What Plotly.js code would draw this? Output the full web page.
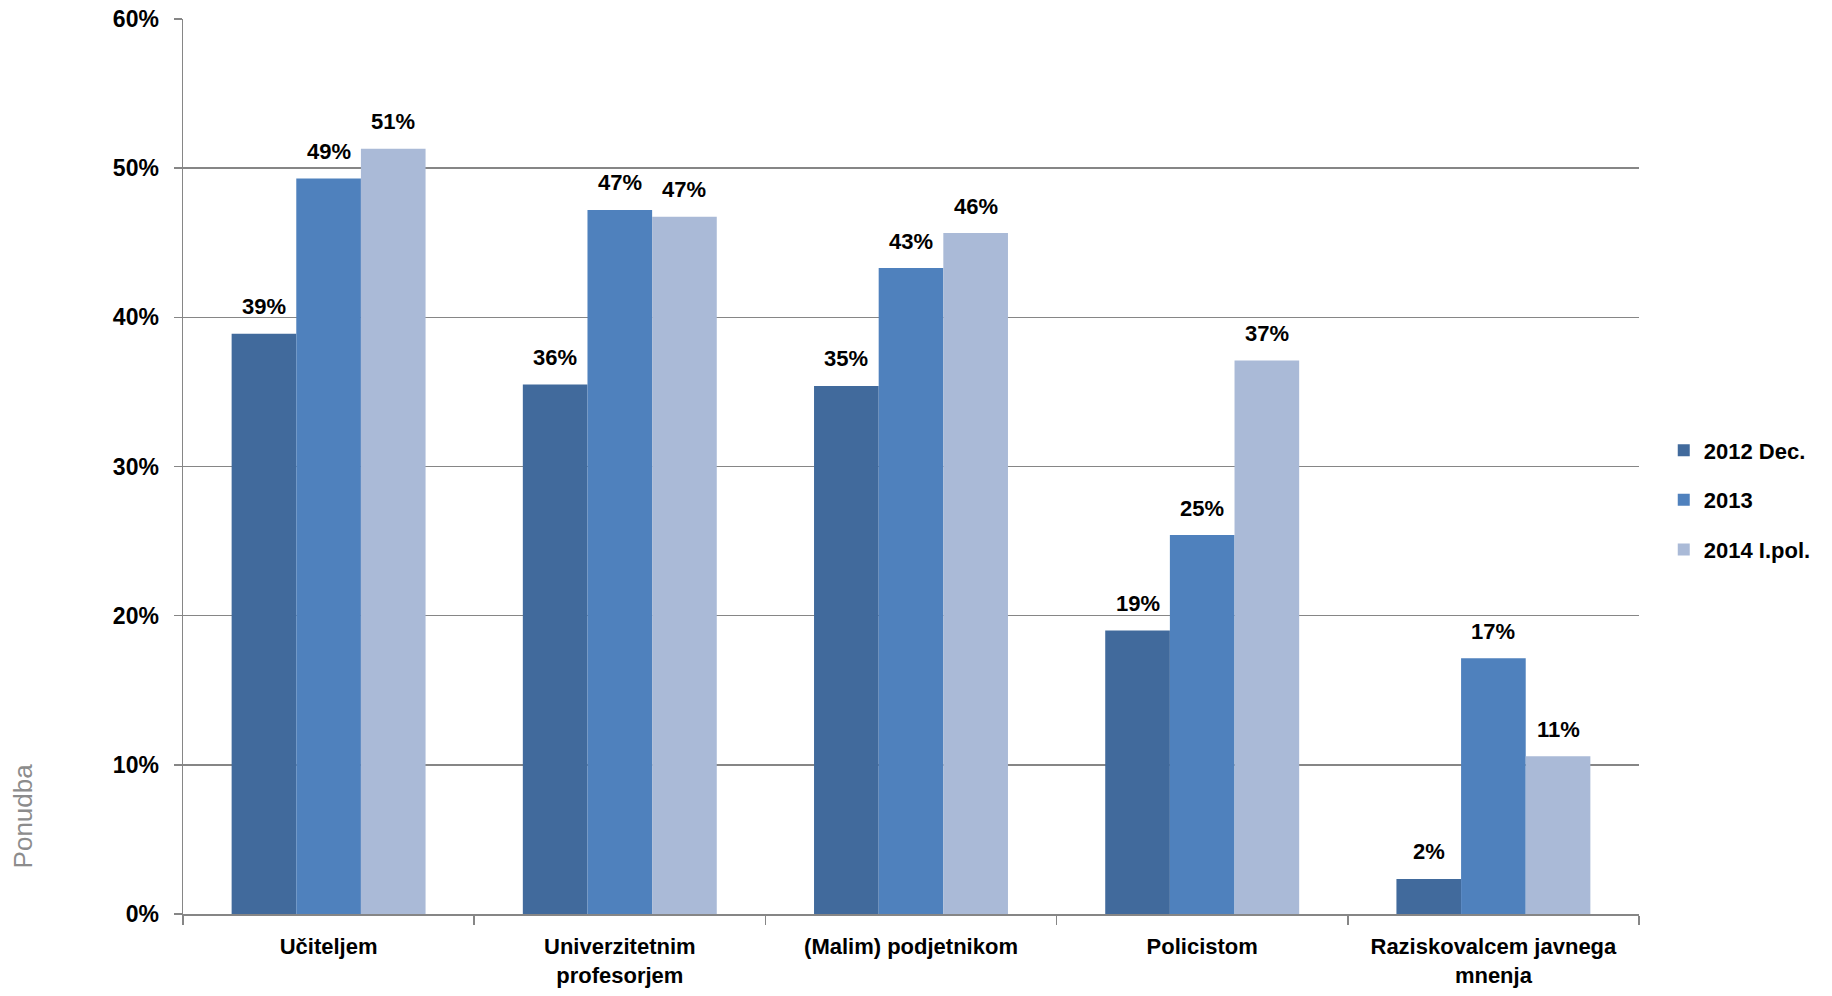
<!DOCTYPE html>
<html>
<head>
<meta charset="utf-8">
<script src="https://cdn.plot.ly/plotly-3.0.1.min.js"></script>
<style>html,body{margin:0;padding:0;background:#fff;}#chart{width:1832px;height:996px;}</style>
</head>
<body>
<div id="chart"></div>
<script>
const categories = ["Učiteljem", "Univerzitetnim<br>profesorjem", "(Malim) podjetnikom", "Policistom", "Raziskovalcem javnega<br>mnenja"];
const series2012 = [0.389, 0.355, 0.354, 0.190, 0.0235];
const series2013 = [0.493, 0.472, 0.433, 0.254, 0.1715];
const series2014 = [0.513, 0.4675, 0.4565, 0.371, 0.1057];
const seriesNames = ["2012 Dec.", "2013", "2014 I.pol."];
const colors = ["#416A9C", "#4F81BD", "#AABAD7"];
const yTicks = [0, 0.1, 0.2, 0.3, 0.4, 0.5, 0.6];
const yTickText = ["0%", "10%", "20%", "30%", "40%", "50%", "60%"];

const font = "Liberation Sans, Arial, sans-serif";
const allSeries = [series2012, series2013, series2014];

const W = 1832, H = 996;
const margin = {l: 183, r: 193, t: 19, b: 82, pad: 0};
const bargap = 0.334;
const plotW = W - margin.l - margin.r;
const barPx = plotW / categories.length * (1 - bargap) / allSeries.length;

const data = allSeries.map((vals, i) => ({
  type: "bar",
  name: seriesNames[i],
  legendgroup: "g" + i,
  x: categories,
  y: vals,
  marker: {color: colors[i], line: {width: 0}},
  hoverinfo: "x+y"
}));

const annotations = [];
allSeries.forEach((vals, i) => {
  vals.forEach((v, j) => {
    annotations.push({
      xref: "x", yref: "y", x: categories[j], y: v,
      xshift: (i - (allSeries.length - 1) / 2) * barPx,
      yshift: 27, xanchor: "center", yanchor: "middle",
      text: Math.round(v * 100) + "%", showarrow: false,
      font: {family: font, size: 22, color: "#000", weight: "bold"}
    });
  });
});
annotations.push({
  text: "Ponudba", xref: "paper", yref: "paper",
  x: -0.11, y: 0.11, xanchor: "center", yanchor: "middle",
  textangle: -90, showarrow: false,
  font: {family: font, size: 26, color: "#8C8C8C"}
});

const layout = {
  width: W, height: H,
  margin: margin,
  paper_bgcolor: "#fff", plot_bgcolor: "#fff",
  barmode: "group",
  bargap: bargap,
  bargroupgap: 0,
  font: {family: font, size: 22, color: "#000"},
  xaxis: {
    type: "category",
    tickson: "boundaries",
    ticks: "outside", ticklen: 9, tickcolor: "#868686", tickwidth: 1.5,
    showline: true, linecolor: "#868686", linewidth: 1.5,
    showgrid: false,
    tickfont: {family: font, size: 22, color: "#000", weight: "bold"},
    ticklabelstandoff: 12,
    fixedrange: true
  },
  yaxis: {
    range: [0, 0.6],
    tickvals: yTicks, ticktext: yTickText,
    ticks: "outside", ticklen: 8, tickcolor: "#868686", tickwidth: 1.5,
    showline: true, linecolor: "#868686", linewidth: 1.5,
    showgrid: true, gridcolor: "#868686", gridwidth: 1.5,
    zeroline: false,
    tickfont: {family: font, size: 23, color: "#000", weight: "bold"},
    ticklabelstandoff: 10,
    fixedrange: true
  },
  legend: {
    x: 1.017, xanchor: "left", y: 0.4626, yanchor: "middle",
    traceorder: "grouped", tracegroupgap: 18,
    font: {family: font, size: 22, color: "#000", weight: "bold"},
    itemwidth: 30,
    bgcolor: "rgba(0,0,0,0)"
  },
  annotations: annotations
};

Plotly.newPlot("chart", data, layout, {displayModeBar: false, staticPlot: true});
</script>
</body>
</html>
